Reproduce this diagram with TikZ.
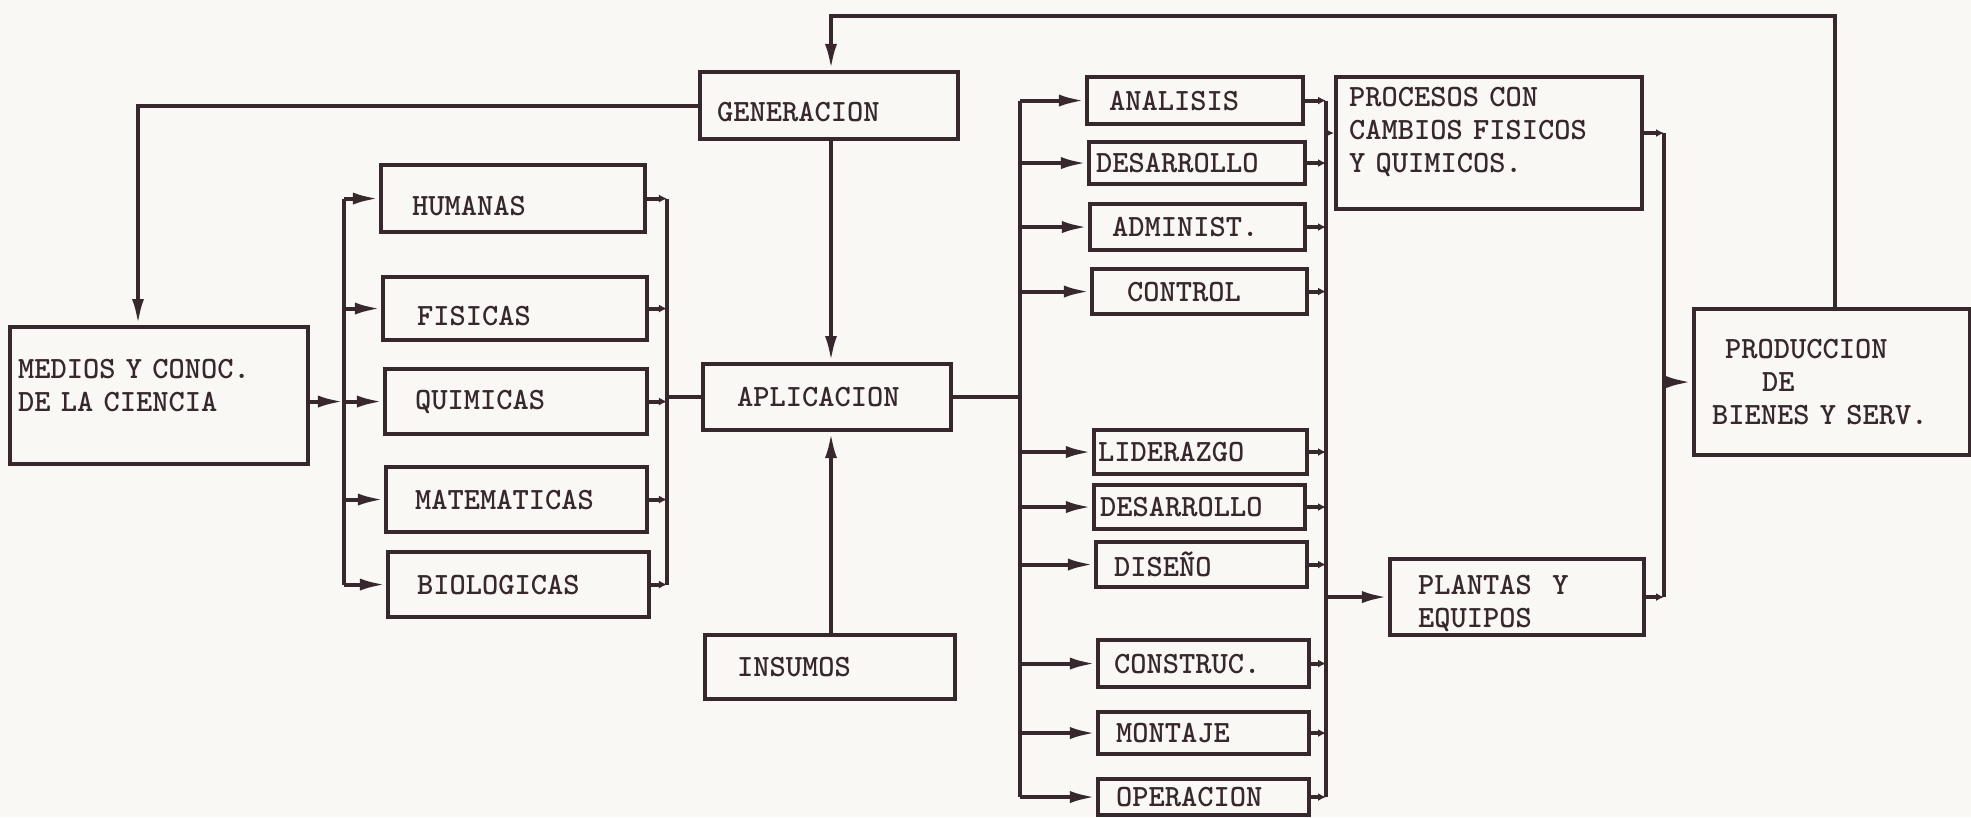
\documentclass[tikz,border=0pt]{standalone}
\usepackage{fontspec}
\usetikzlibrary{arrows.meta}
\definecolor{ink}{RGB}{55,40,45}
\definecolor{paper}{RGB}{249,248,244}
\begin{document}
\begin{tikzpicture}[x=0.01cm,y=-0.01cm,line width=1.15pt,draw=ink,
  box/.style={draw=ink,rectangle,anchor=north west,inner ysep=0pt,align=left,
    font=\fontsize{8.8}{9.3}\selectfont\ttfamily\bfseries,text=ink,line width=1.15pt},
  arr/.style={-{Latex[length=0.26cm,width=0.12cm]}},
  sarr/.style={-{Latex[length=0.08cm,width=0.08cm]}}]
\useasboundingbox (0,0) rectangle (1971,817);
\fill[paper] (0,0) rectangle (1971,817);

% boxes
\node[box,minimum height=1.37cm,text width=2.82cm,inner xsep=0.08cm] (med) at (8,325) {MEDIOS Y CONOC.\\DE LA CIENCIA\rule[-0.2cm]{0pt}{0.2cm}};
\node[box,minimum height=0.67cm,text width=2.02cm,inner xsep=0.31cm] (hum) at (379,163) {\rule{0pt}{0.35cm}HUMANAS};
\node[box,minimum height=0.63cm,text width=1.96cm,inner xsep=0.34cm] (fis) at (381,275) {\rule{0pt}{0.35cm}FISICAS};
\node[box,minimum height=0.65cm,text width=2.02cm,inner xsep=0.30cm] (qui) at (383,367) {QUIMICAS};
\node[box,minimum height=0.65cm,text width=2.03cm,inner xsep=0.29cm] (mat) at (384,465) {MATEMATICAS};
\node[box,minimum height=0.65cm,text width=2.03cm,inner xsep=0.29cm] (bio) at (386,550) {BIOLOGICAS};
\node[box,minimum height=0.67cm,text width=2.24cm,inner xsep=0.17cm] (gen) at (698,70) {\rule{0pt}{0.33cm}GENERACION};
\node[box,minimum height=0.66cm,text width=1.80cm,inner xsep=0.34cm] (apl) at (701,362) {APLICACION};
\node[box,minimum height=0.64cm,text width=1.86cm,inner xsep=0.32cm] (ins) at (703,633) {INSUMOS};
\node[box,minimum height=0.47cm,text width=1.72cm,inner xsep=0.22cm] (ana) at (1085,75) {ANALISIS};
\node[box,minimum height=0.42cm,text width=2.02cm,inner xsep=0.07cm] (des1) at (1087,140) {DESARROLLO};
\node[box,minimum height=0.46cm,text width=1.71cm,inner xsep=0.22cm] (adm) at (1088,202) {ADMINIST.};
\node[box,minimum height=0.45cm,text width=1.45cm,inner xsep=0.35cm] (con) at (1090,267) {CONTROL};
\node[box,minimum height=0.44cm,text width=2.05cm,inner xsep=0.04cm] (lid) at (1092,428) {LIDERAZGO};
\node[box,minimum height=0.44cm,text width=1.99cm,inner xsep=0.06cm] (des2) at (1092,483) {DESARROLLO};
\node[box,minimum height=0.45cm,text width=1.75cm,inner xsep=0.18cm] (dis) at (1094,540) {DISEÑO};
\node[box,minimum height=0.47cm,text width=1.79cm,inner xsep=0.16cm] (cons) at (1096,638) {CONSTRUC.};
\node[box,minimum height=0.42cm,text width=1.75cm,inner xsep=0.18cm] (mon) at (1096,710) {MONTAJE};
\node[box,minimum height=0.36cm,text width=1.75cm,inner xsep=0.18cm] (ope) at (1096,777) {OPERACION};
\node[box,minimum height=1.32cm,text width=2.80cm,inner xsep=0.13cm] (pro) at (1334,75) {PROCESOS CON\\CAMBIOS FISICOS\\Y QUIMICOS.\rule[-0.26cm]{0pt}{0.26cm}};
\node[box,minimum height=0.76cm,text width=1.98cm,inner xsep=0.28cm] (pla) at (1388,557) {\rule{0pt}{0.32cm}PLANTAS\ \ Y\\EQUIPOS};
\node[box,minimum height=1.46cm,text width=2.40cm,inner xsep=0.18cm] (prod) at (1692,307) {\hspace*{0.13cm}PRODUCCION\\\hspace*{0.5cm}DE\\BIENES Y SERV.};

% helper coordinates
\coordinate (mx) at (138,0);
\coordinate (vx) at (831,0);
\coordinate (lbx) at (344,0);
\coordinate (rbx) at (667,0);
\coordinate (mlx) at (1020,0);
\coordinate (mrx) at (1326,0);
\coordinate (px) at (1664,0);
\coordinate (py) at (0,133);
\coordinate (ty) at (0,16);
\coordinate (prx) at (1835,0);

% feedback loops
\draw[arr] (gen.west) -| (mx |- med.north);
\draw[arr] (prx |- prod.north) |- (vx |- ty) -- (vx |- gen.north);
\draw[arr] (vx |- gen.south) -- (vx |- apl.north);
\draw[arr] (vx |- ins.north) -- (vx |- apl.south);

% sciences
\draw[arr] (med.east |- qui.west) -- (lbx |- qui.west);
\draw (lbx |- hum.west) -- (lbx |- bio.west);
\foreach \n in {hum,fis,qui,mat,bio} {\draw[arr] (lbx |- \n.west) -- (\n.west);}
\foreach \n in {hum,fis,qui,mat,bio} {\draw[sarr] (\n.east) -- (rbx |- \n.east);}
\draw (rbx |- hum.east) -- (rbx |- bio.east);
\draw (rbx |- apl.west) -- (apl.west);

% activities
\draw (apl.east) -- (mlx |- apl.east);
\draw (mlx |- ana.west) -- (mlx |- ope.west);
\foreach \n in {ana,des1,adm,con,lid,des2,dis,cons,mon,ope} {\draw[arr] (mlx |- \n.west) -- (\n.west);}
\foreach \n in {ana,des1,adm,con,lid,des2,dis,cons,mon,ope} {\draw[sarr] (\n.east) -- (mrx |- \n.east);}
\draw (mrx |- ana.east) -- (mrx |- ope.east);
\draw[sarr] (mrx |- py) -- (pro.west |- py);
\draw[arr] (mrx |- pla.west) -- (pla.west);

% production
\draw[sarr] (pro.east |- py) -- (px |- py);
\draw[sarr] (pla.east) -- (px |- pla.east);
\draw (px |- py) -- (px |- pla.east);
\draw[arr] (px |- prod.west) -- (prod.west);
\end{tikzpicture}
\end{document}
